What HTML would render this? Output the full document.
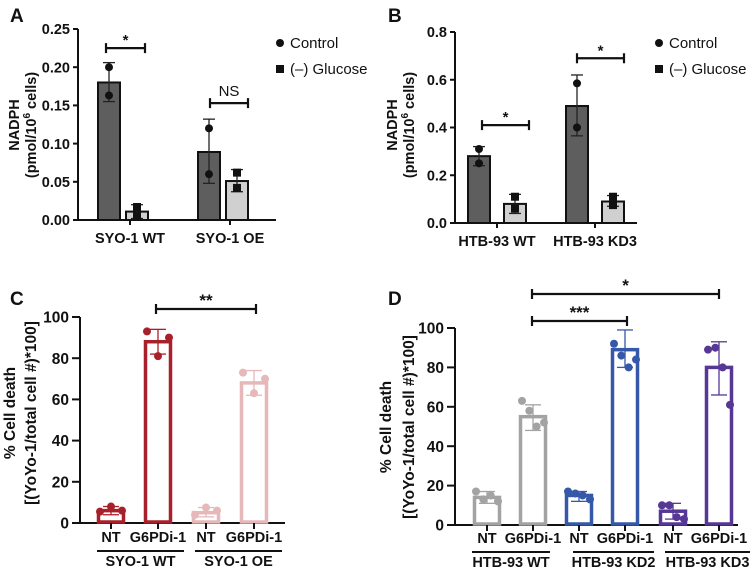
<!DOCTYPE html>
<html><head><meta charset="utf-8"><style>
body{margin:0;background:#fff}
svg{display:block;font-family:"Liberation Sans",Arial,sans-serif}
text{fill:#111}
</style></head><body>
<svg id="fig" width="754" height="573" viewBox="0 0 754 573" xmlns="http://www.w3.org/2000/svg">
<g font-weight="bold" font-size="19">
<text x="10" y="22">A</text>
<text x="388" y="22">B</text>
<text x="10" y="305">C</text>
<text x="388" y="305">D</text>
</g>
</svg>
<script>
// Panel A data
const aCats = ["SYO-1 WT","SYO-1 OE"];
const aCtrl = [0.18, 0.089];
const aGluc = [0.011, 0.051];
const aCtrlPts = [[0.20,0.163],[0.12,0.06]];
const aGlucPts = [[0.017,0.005],[0.062,0.042]];
const aCtrlErr = [[0.155,0.206],[0.048,0.132]];
const aGlucErr = [[0.002,0.02],[0.037,0.066]];
const aTicks = [0,0.05,0.10,0.15,0.20,0.25];
const aTickLabels = ["0.00","0.05","0.10","0.15","0.20","0.25"];
// Panel B data
const bCats = ["HTB-93 WT","HTB-93 KD3"];
const bCtrl = [0.28, 0.49];
const bGluc = [0.08, 0.09];
const bCtrlPts = [[0.31,0.25],[0.585,0.40]];
const bGlucPts = [[0.11,0.06],[0.11,0.075]];
const bCtrlErr = [[0.24,0.32],[0.365,0.62]];
const bGlucErr = [[0.04,0.12],[0.07,0.115]];
const bTicks = [0,0.2,0.4,0.6,0.8];
const bTickLabels = ["0.0","0.2","0.4","0.6","0.8"];
// Panel C data
const cGroups = ["SYO-1 WT","SYO-1 OE"];
const cTreat = ["NT","G6PDi-1","NT","G6PDi-1"];
const cMeans = [6, 88, 5, 68];
const cPts = [[5.5,8,6],[93,81,90],[4,7.5,6],[73,63,70]];
const cErr = [[4,8],[82,94],[3,7.5],[62,74]];
const cTicks = [0,20,40,60,80,100];
// Panel D data
const dGroups = ["HTB-93 WT","HTB-93 KD2","HTB-93 KD3"];
const dTreat = ["NT","G6PDi-1","NT","G6PDi-1","NT","G6PDi-1"];
const dMeans = [14, 55, 15, 89, 7, 80];
const dPts = [[17,13,15,12],[63,58,50,52],[17,16,15,13],[92,86,80,84],[10,10,4,3],[89,90,80,61]];
const dErr = [[11,17],[48,61],[12,17],[80,99],[3,11],[66,93]];
const dTicks = [0,20,40,60,80,100];

const svg = document.getElementById('fig');
const NS = 'http://www.w3.org/2000/svg';
function mk(tag, attrs, parent, txt){
  const e = document.createElementNS(NS, tag);
  for (const k in attrs) e.setAttribute(k, attrs[k]);
  if (txt !== undefined) e.textContent = txt;
  (parent||svg).appendChild(e);
  return e;
}
function lin(d0,d1,r0,r1){return v=>r0+(v-d0)*(r1-r0)/(d1-d0);}

function yAxis(g, x, y, ticks, labels, fs, gap, tl){
  let l = mk('line',{x1:x,x2:x,y1:y(ticks[0])+1,y2:y(ticks[ticks.length-1]),stroke:'#111','stroke-width':2},g);
  
  
  ticks.forEach((t,i)=>{
    mk('line',{x1:x-tl,x2:x,y1:y(t),y2:y(t),stroke:'#111','stroke-width':2},g);
    let tx = mk('text',{x:x-gap,y:y(t)+fs*0.36,'text-anchor':'end','font-size':fs,'font-weight':'bold'},g,labels[i]);
    
    
  });
}
function errBar(g,cx,y,lo,hi,w,col){
  mk('line',{x1:cx,x2:cx,y1:y(lo),y2:y(hi),stroke:col,'stroke-width':1.3},g);
  mk('line',{x1:cx-w,x2:cx+w,y1:y(lo),y2:y(lo),stroke:col,'stroke-width':1.3},g);
  mk('line',{x1:cx-w,x2:cx+w,y1:y(hi),y2:y(hi),stroke:col,'stroke-width':1.3},g);
}
function sig(g,x1,x2,yy,label,fs){
  let b = mk('g',{},g);
  
  
  mk('line',{x1:x1,x2:x2,y1:yy,y2:yy,stroke:'#111','stroke-width':2.2},b);
  mk('line',{x1:x1,x2:x1,y1:yy-5,y2:yy+5,stroke:'#111','stroke-width':2.2},b);
  mk('line',{x1:x2,x2:x2,y1:yy-5,y2:yy+5,stroke:'#111','stroke-width':2.2},b);
  mk('text',{x:(x1+x2)/2,y:yy-(label==='NS'?7:3),'text-anchor':'middle','font-size':fs,'font-weight':label==='NS'?'normal':'bold'},b,label);
}
function legend(g,x,y){
  let l1 = mk('g',{},g);
  
  
  mk('circle',{cx:x,cy:y,r:4,fill:'#111'},l1);
  mk('text',{x:x+10,y:y+5,'font-size':15},l1,'Control');
  let l2 = mk('g',{},g);
  
  
  mk('rect',{x:x-4,y:y+22,width:8,height:8,fill:'#111'},l2);
  mk('text',{x:x+10,y:y+31,'font-size':15},l2,'(\u2013) Glucose');
}
function yTitle(g,x1,x2,cy,t1,t2,fs){
  let a = mk('text',{x:0,y:0,transform:`translate(${x1},${cy}) rotate(-90)`,'text-anchor':'middle','font-size':fs,'font-weight':'bold'},g);
  a.innerHTML = t1;
  
  
  let b = mk('text',{x:0,y:0,transform:`translate(${x2},${cy}) rotate(-90)`,'text-anchor':'middle','font-size':fs,'font-weight':'bold'},g);
  b.innerHTML = t2;
  
  
}

// NADPH panels (A, B)
function nadph(name, x0, xEnd, y, ticks, labels, cats, ctrl, gluc, cPtsA, gPtsA, cErrA, gErrA, groupX, off1, off2, sigs, legX, title){
  const g = mk('g',{});
  
  
  yAxis(g, x0, y, ticks, labels, 14.5, 8, 5);
  let xl = mk('line',{x1:x0-1,x2:xEnd,y1:y(0),y2:y(0),stroke:'#111','stroke-width':2},g);
  
  
  cats.forEach((c,i)=>{
    const gx = groupX[i];
    mk('line',{x1:gx,x2:gx,y1:y(0),y2:y(0)+5,stroke:'#111','stroke-width':2},g);
    let t = mk('text',{x:gx,y:y(0)+23,'text-anchor':'middle','font-size':14.5,'font-weight':'bold'},g,c);
    
    
    const cx1 = gx+off1, cx2 = gx+off2, w = 22;
    let b1 = mk('rect',{x:cx1-w/2,y:y(ctrl[i]),width:w,height:y(0)-y(ctrl[i]),fill:'#5e5e5e',stroke:'#111','stroke-width':2},g);
    
    
    let b2 = mk('rect',{x:cx2-w/2,y:y(gluc[i]),width:w,height:y(0)-y(gluc[i]),fill:'#d0d0d0',stroke:'#111','stroke-width':2},g);
    
    
    errBar(g,cx1,y,cErrA[i][0],cErrA[i][1],6,'#222');
    errBar(g,cx2,y,gErrA[i][0],gErrA[i][1],6,'#222');
    cPtsA[i].forEach(v=>{
      let p = mk('circle',{cx:cx1,cy:y(v),r:4,fill:'#111'},g);
      
      
    });
    gPtsA[i].forEach(v=>{
      let p = mk('rect',{x:cx2-4,y:y(v)-4,width:8,height:8,fill:'#111'},g);
      
      
    });
  });
  sigs.forEach(s=>sig(g,s[0],s[1],y(s[2]),s[3],15));
  legend(g,legX,43);
  yTitle(g,title[0],title[1],title[2],'NADPH','(pmol/10<tspan font-size="10" dy="-6">6</tspan><tspan dy="6"> cells)</tspan>',14.5);
}
const yA = lin(0,0.25,220,29);
nadph('panel-a-chart',78,276,yA,aTicks,aTickLabels,aCats,aCtrl,aGluc,aCtrlPts,aGlucPts,aCtrlErr,aGlucErr,[130,230],-21,7,[[106,145,0.225,'*'],[210,248,0.153,'NS']],280,[19,36,125]);
const yB = lin(0,0.8,223,32);
nadph('panel-b-chart',455,637,yB,bTicks,bTickLabels,bCats,bCtrl,bGluc,bCtrlPts,bGlucPts,bCtrlErr,bGlucErr,[497,595],-18,18,[[482,529,0.41,'*'],[577,624,0.69,'*']],659,[397,414,125]);

// Cell-death panels (C, D)
function death(name,x0,xEnd,y,ticks,tfs,groups,treat,means,pts,err,xs,cols,underlines,sigs,title,labY){
  const g = mk('g',{});
  
  
  yAxis(g,x0,y,ticks,ticks.map(String),tfs,11,8);
  let xl = mk('line',{x1:x0-1,x2:xEnd,y1:y(0),y2:y(0),stroke:'#111','stroke-width':2},g);
  
  
  means.forEach((m,i)=>{
    const cx = xs[i], col = cols[i], w = 25;
    let b = mk('rect',{x:cx-w/2,y:y(m),width:w,height:y(0)-y(m)-1,fill:'none',stroke:col,'stroke-width':3.5},g);
    
    
    errBar(g,cx,y,err[i][0],err[i][1],8,col);
    const n = pts[i].length;
    pts[i].forEach((v,j)=>{
      const dx = n===1?0:(-11+22*j/(n-1));
      let p = mk('circle',{cx:cx+dx,cy:y(v),r:4,fill:col},g);
      
      
    });
    mk('line',{x1:cx,x2:cx,y1:y(0),y2:y(0)+6,stroke:'#111','stroke-width':2},g);
    let t = mk('text',{x:cx,y:labY,'text-anchor':'middle','font-size':14.5,'font-weight':'bold'},g,treat[i]);
    
    
  });
  groups.forEach((gr,i)=>{
    const u = underlines[i];
    mk('line',{x1:u[0],x2:u[1],y1:labY+9,y2:labY+9,stroke:'#111','stroke-width':2},g);
    let t = mk('text',{x:(u[0]+u[1])/2,y:labY+24,'text-anchor':'middle','font-size':14.5,'font-weight':'bold'},g,gr);
    
    
  });
  sigs.forEach(s=>sig(g,s[0],s[1],s[2],s[3],17));
  yTitle(g,title[0],title[1],title[2],'% Cell death','[(YoYo-1/total cell #)*100]',15.5);
}
const yC = lin(0,100,523,317);
const redCols = ['#a8202a','#a8202a','#e6b8ba','#e6b8ba'];
death('panel-c-chart',80,285,yC,cTicks,15.5,cGroups,cTreat,cMeans,cPts,cErr,[111,158,206,254],redCols,[[97,184],[195,282]],[[156,256,309,'**']],[15,36,413],542);
const yD = lin(0,100,525,328);
const dCols = ['#a3a3a3','#a3a3a3','#3558a8','#3558a8','#563795','#563795'];
death('panel-d-chart',455,738,yD,dTicks,15.5,dGroups,dTreat,dMeans,dPts,dErr,[487,533,579,625,673,719],dCols,[[472,550],[573,654],[665,750]],[[532,627,321,'***'],[532,719,294,'*']],[391,414,427],543);
</script>
</body></html>
